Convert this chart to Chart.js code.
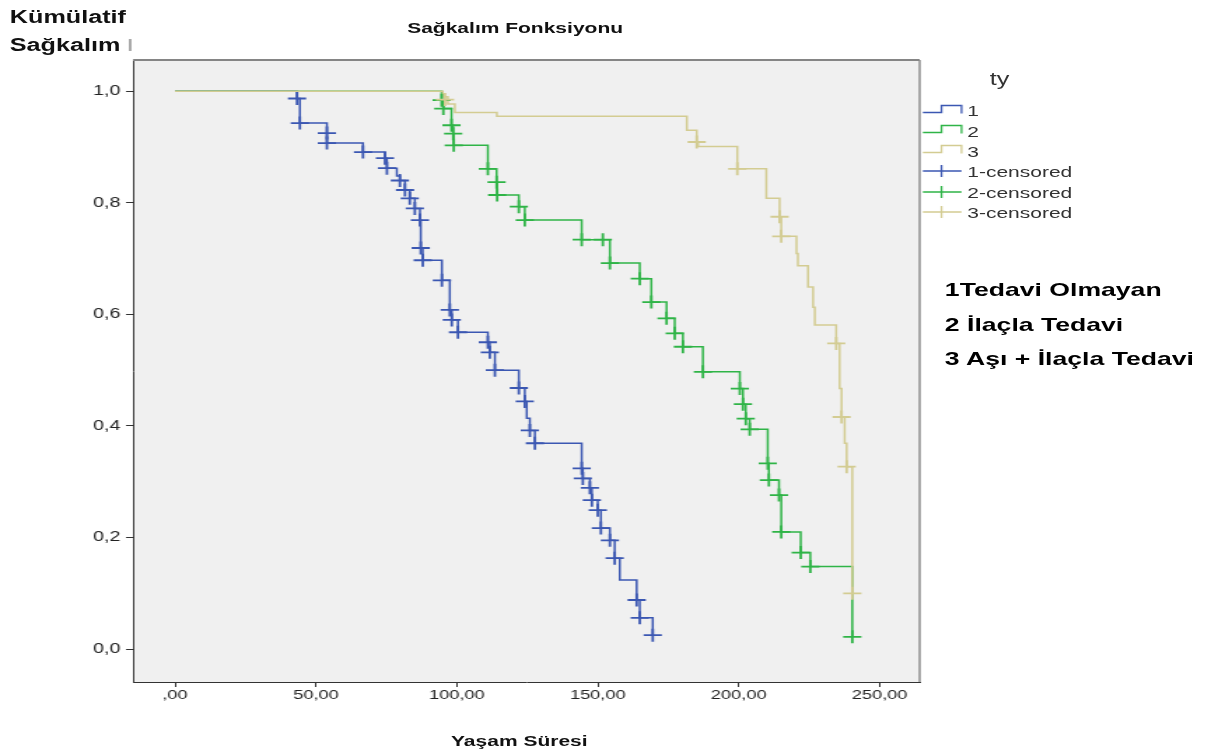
<!DOCTYPE html>
<html>
<head>
<meta charset="utf-8">
<script src="https://cdn.jsdelivr.net/npm/chart.js@4.4.0/dist/chart.umd.min.js"></script>
<style>
  html, body { margin: 0; padding: 0; background: #fff; }
  #wrap { position: absolute; left: 0; top: 0; width: 873px; height: 754px;
          transform: scaleX(1.39977); transform-origin: 0 0;
          font-family: "Liberation Sans", Arial, sans-serif; color: #111; }
  #c { position: absolute; left: 0; top: 0; }
  .t { position: absolute; white-space: nowrap; line-height: 1; transform: translateY(-50%); }
  .b { font-weight: bold; }
  .mid { transform: translate(-50%, -50%); }
  .lg { font-size: 15px; color: #333; left: 691px; }
  .ann { font-size: 19px; font-weight: bold; left: 675px; color: #000; }
</style>
</head>
<body>
<div id="wrap">
  <canvas id="c" width="873" height="754"></canvas>
  <div class="t b" style="left:7px;top:17px;font-size:18px">Kümülatif</div>
  <div class="t b" style="left:7px;top:45px;font-size:18px">Sağkalım</div>
  <div class="t b mid" style="left:368px;top:27px;font-size:15px">Sağkalım Fonksiyonu</div>
  <div class="t b mid" style="left:371px;top:740px;font-size:15px">Yaşam Süresi</div>
  <div class="t mid" style="left:714px;top:79px;font-size:18px;color:#333">ty</div>
  <div class="t lg" style="top:110px">1</div>
  <div class="t lg" style="top:131px">2</div>
  <div class="t lg" style="top:151px">3</div>
  <div class="t lg" style="top:171px">1-censored</div>
  <div class="t lg" style="top:192px">2-censored</div>
  <div class="t lg" style="top:212px">3-censored</div>
  <div class="t ann" style="top:289px">1Tedavi Olmayan</div>
  <div class="t ann" style="top:324px">2 İlaçla Tedavi</div>
  <div class="t ann" style="top:358px">3 Aşı + İlaçla Tedavi</div>
</div>
<script>
// Kaplan-Meier curves (time, survival after drop)
var blueT = [0, 43.3, 44.3, 53.9, 66.7, 74.5, 75.2, 78.7, 79.8, 81.6, 83.3, 85.1, 86.9, 87.2, 87.9, 94.7, 97.5, 98.2, 100.4, 111.0, 111.7, 113.5, 122.0, 124.1, 124.8, 125.9, 127.7, 144.3, 144.7, 147.2, 147.9, 150.0, 151.1, 154.3, 156.0, 157.8, 163.8, 164.9, 169.5];
var blueS = [1, 0.987, 0.943, 0.907, 0.891, 0.880, 0.862, 0.848, 0.840, 0.823, 0.808, 0.790, 0.769, 0.719, 0.697, 0.661, 0.608, 0.590, 0.568, 0.550, 0.532, 0.500, 0.468, 0.444, 0.414, 0.392, 0.369, 0.324, 0.306, 0.289, 0.267, 0.249, 0.217, 0.195, 0.163, 0.124, 0.088, 0.056, 0.025];
var blueCT = [43.3, 44.3, 53.9, 53.9, 66.7, 74.5, 75.2, 79.8, 81.6, 83.3, 85.1, 86.9, 87.2, 87.9, 94.7, 97.5, 98.2, 100.4, 111.0, 111.7, 113.5, 122.0, 124.1, 125.9, 127.7, 144.3, 144.7, 147.2, 147.9, 150.0, 151.1, 154.3, 156.0, 163.8, 164.9, 169.5];
var blueCS = [0.987, 0.943, 0.925, 0.907, 0.891, 0.880, 0.862, 0.840, 0.823, 0.808, 0.790, 0.769, 0.719, 0.697, 0.661, 0.608, 0.590, 0.568, 0.550, 0.532, 0.500, 0.468, 0.444, 0.392, 0.369, 0.324, 0.306, 0.289, 0.267, 0.249, 0.217, 0.195, 0.163, 0.088, 0.056, 0.025];

var greenT = [0, 94.6, 95.2, 98.1, 98.7, 98.9, 111.0, 114.1, 114.3, 122.0, 124.1, 144.3, 154.3, 164.9, 169.0, 174.4, 177.3, 180.2, 187.3, 200.4, 201.5, 202.5, 203.9, 210.3, 210.7, 214.3, 215.1, 222.0, 225.4, 240.3];
var greenS = [1, 0.984, 0.969, 0.939, 0.924, 0.903, 0.861, 0.837, 0.814, 0.793, 0.769, 0.734, 0.692, 0.664, 0.622, 0.593, 0.566, 0.542, 0.497, 0.467, 0.439, 0.413, 0.394, 0.333, 0.303, 0.276, 0.210, 0.173, 0.148, 0.022];
var greenCT = [94.6, 95.2, 98.1, 98.7, 98.9, 111.0, 114.1, 114.3, 122.0, 124.1, 144.3, 151.8, 154.3, 164.9, 169.0, 174.4, 177.3, 180.2, 187.3, 200.4, 201.5, 202.5, 203.9, 210.3, 210.7, 214.3, 215.1, 222.0, 225.4, 240.3];
var greenCS = [0.984, 0.969, 0.939, 0.924, 0.903, 0.861, 0.837, 0.814, 0.793, 0.769, 0.734, 0.734, 0.692, 0.664, 0.622, 0.593, 0.566, 0.542, 0.497, 0.467, 0.439, 0.413, 0.394, 0.333, 0.303, 0.276, 0.210, 0.173, 0.148, 0.022];

var tanT = [0, 95.0, 96.8, 99.3, 114.2, 181.6, 185.1, 185.6, 199.5, 209.8, 214.5, 215.1, 220.5, 221.0, 224.6, 226.4, 227.0, 234.6, 235.8, 236.5, 237.6, 238.3, 240.3];
var tanS = [1, 0.990, 0.977, 0.962, 0.955, 0.930, 0.909, 0.901, 0.861, 0.808, 0.775, 0.740, 0.709, 0.687, 0.649, 0.613, 0.581, 0.548, 0.467, 0.416, 0.369, 0.327, 0.100];
var tanCT = [95.8, 185.1, 199.5, 214.5, 215.1, 234.6, 236.5, 238.3, 240.3];
var tanCS = [0.985, 0.909, 0.861, 0.775, 0.740, 0.548, 0.416, 0.327, 0.100];

var xTicks = [0, 50, 100, 150, 200, 250];
var yTicks = [0, 0.2, 0.4, 0.6, 0.8, 1.0];

var blue = '#3b57b2', green = '#2fb447', tan = '#d3cc92';

function pts(ts, ss) {
  return ts.map(function (t, i) { return { x: t, y: ss[i] }; });
}

function curve(label, ts, ss, color, order) {
  return { label: label, data: pts(ts, ss), borderColor: color, borderWidth: 1.5,
           stepped: true, pointRadius: 0, fill: false, order: order };
}
function censored(label, ts, ss, color, order) {
  return { label: label, data: pts(ts, ss), showLine: false, pointStyle: 'cross',
           pointRadius: 6.5, pointBorderWidth: 1.8, borderColor: color,
           backgroundColor: color, order: order };
}

var framePlugin = {
  id: 'frame',
  beforeDraw: function (chart) {
    var a = chart.chartArea, c = chart.ctx;
    c.save();
    c.fillStyle = '#f0f0f0';
    c.fillRect(a.left, a.top, a.right - a.left, a.bottom - a.top);
    c.restore();
  },
  afterDraw: function (chart) {
    var a = chart.chartArea, c = chart.ctx;
    c.save();
    c.strokeStyle = '#858585';
    c.lineWidth = 2;
    c.beginPath();
    c.moveTo(a.left, a.top); c.lineTo(a.right, a.top);
    c.stroke();
    c.lineWidth = 1.4;
    c.beginPath();
    c.moveTo(a.right, a.top); c.lineTo(a.right, a.bottom);
    c.stroke();
    // small mark above the y axis
    c.strokeStyle = '#555';
    c.lineWidth = 1;
    c.beginPath();
    c.moveTo(a.left - 2, 39); c.lineTo(a.left - 2, 51);
    c.stroke();

    // legend samples
    var x0 = 659.3, xm = 672.6, x1 = 686.9;
    var cols = [blue, green, tan];
    var ys = [111, 131, 151];
    var yc = [171, 192, 212];
    c.lineWidth = 1.3;
    for (var i = 0; i < 3; i++) {
      c.strokeStyle = cols[i];
      c.beginPath();
      c.moveTo(x0, ys[i] + 1.5); c.lineTo(xm, ys[i] + 1.5);
      c.lineTo(xm, ys[i] - 5.5); c.lineTo(x1, ys[i] - 5.5); c.lineTo(x1, ys[i] + 2.5);
      c.stroke();
      c.beginPath();
      c.moveTo(x0, yc[i]); c.lineTo(x1, yc[i]);
      c.moveTo(xm, yc[i] - 6); c.lineTo(xm, yc[i] + 6);
      c.stroke();
    }
    c.restore();
  }
};

new Chart(document.getElementById('c'), {
  type: 'line',
  data: {
    datasets: [
      censored('1-censored', blueCT, blueCS, blue, 2),
      censored('2-censored', greenCT, greenCS, green, 1),
      censored('3-censored', tanCT, tanCS, tan, 0),
      curve('1', blueT, blueS, blue, 5),
      curve('2', greenT, greenS, green, 4),
      curve('3', tanT, tanS, tan, 3)
    ]
  },
  options: {
    responsive: false,
    animation: false,
    layout: { padding: { top: 60, right: 216, left: 0, bottom: 0 } },
    plugins: { legend: { display: false }, tooltip: { enabled: false } },
    scales: {
      x: {
        type: 'linear', min: -14.9, max: 264.2,
        afterBuildTicks: function (s) { s.ticks = xTicks.map(function (v) { return { value: v }; }); },
        afterFit: function (s) { s.height = 72; },
        ticks: {
          color: '#222', font: { family: 'Liberation Sans', size: 13 }, padding: 1,
          maxRotation: 0,
          callback: function (v) { return v === 0 ? ',00' : v.toFixed(2).replace('.', ','); }
        },
        grid: { drawOnChartArea: false, tickLength: 5, color: '#333' },
        border: { color: '#333', width: 1 }
      },
      y: {
        type: 'linear', min: -0.059, max: 1.056,
        afterBuildTicks: function (s) { s.ticks = yTicks.map(function (v) { return { value: v }; }); },
        afterFit: function (s) { s.width = 95; },
        ticks: {
          color: '#222', font: { family: 'Liberation Sans', size: 14 }, padding: 4,
          callback: function (v) { return v.toFixed(1).replace('.', ','); }
        },
        grid: { drawOnChartArea: false, tickLength: 5, color: '#333' },
        border: { color: '#333', width: 1 }
      }
    }
  },
  plugins: [framePlugin]
});
</script>
</body>
</html>
